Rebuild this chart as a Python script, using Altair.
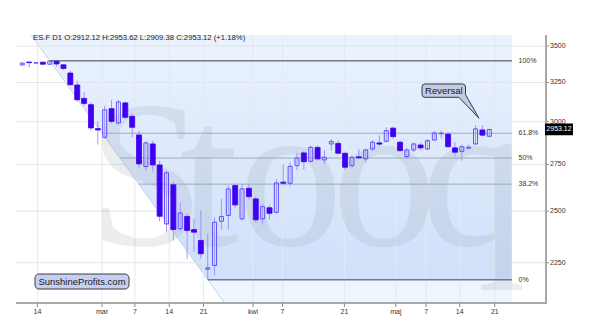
import numpy as np
import pandas as pd
import altair as alt

# ---------------- data ----------------
symbol = "ES.F"
interval = "D1"

opens = [3368, 3388, 3381, 3387, 3373, 3393, 3369, 3313, 3233, 3146,
         3106, 2958, 2906, 3081, 2992, 3117, 3033, 2920, 2738, 2867,
         2747, 2436, 2638, 2412, 2473, 2408, 2355, 2221, 2238, 2449,
         2478, 2634, 2461, 2619, 2563, 2461, 2517, 2494, 2652, 2646,
         2743, 2815, 2767, 2847, 2775, 2867, 2870, 2813, 2743, 2793,
         2781, 2838, 2873, 2882, 2961, 2877, 2794, 2832, 2861, 2838,
         2890, 2927, 2925, 2844, 2824, 2842, 2867, 2950, 2912.12]
highs = [3383, 3390, 3386, 3390, 3397.5, 3396, 3373, 3328, 3261, 3185,
         3120, 3002, 3100, 3138, 3136, 3125, 3050, 2946, 2882, 2886,
         2771, 2715, 2655, 2545, 2486, 2463, 2503, 2388, 2469, 2563,
         2634, 2644, 2643, 2643, 2575, 2537, 2529, 2670, 2752, 2762,
         2815, 2828, 2857, 2857, 2832, 2896, 2886, 2823, 2800, 2838,
         2840, 2890, 2916, 2966, 2970, 2886, 2844, 2874, 2874, 2896,
         2942, 2946, 2936, 2877, 2863, 2863, 2976, 2976, 2953.62]
lows = [3366, 3351, 3378, 3370, 3369, 3356, 3335, 3228, 3127, 3100,
        2946, 2863, 2898, 2988, 2982, 3017, 2906, 2725, 2715, 2710,
        2448, 2398, 2355, 2403, 2269, 2299, 2269, 2174, 2193, 2407,
        2407, 2518, 2453, 2563, 2439, 2432, 2456, 2488, 2634, 2628,
        2719, 2719, 2763, 2771, 2752, 2828, 2811, 2719, 2725, 2781,
        2762, 2823, 2851, 2877, 2896, 2823, 2781, 2819, 2834, 2831,
        2886, 2896, 2846, 2794, 2771, 2840, 2863, 2915, 2909.38]
closes = [3381, 3384, 3383, 3373, 3394, 3375, 3344, 3235, 3137, 3114,
          2962, 2950, 3073, 3002, 3123, 3027, 2966, 2753, 2873, 2747,
          2474, 2703, 2408, 2491, 2403, 2395, 2292, 2227, 2444, 2473,
          2616, 2532, 2616, 2575, 2456, 2523, 2489, 2648, 2646, 2739,
          2786, 2765, 2847, 2781, 2790, 2882, 2813, 2734, 2790, 2787,
          2832, 2877, 2866, 2946, 2910, 2828, 2832, 2867, 2844, 2886,
          2932, 2931, 2851, 2819, 2851, 2848, 2956, 2918.7, 2953.12]

x_tick_pos = [2.2, 11.6, 16.4, 21.4, 26.4, 33.6, 37.9, 46.9, 54.4, 58.8, 63.7, 68.8]
x_tick_labels = ["14", "mar", "7", "14", "21", "kwi", "7", "21", "maj", "7", "14", "21"]
y_ticks = [2250, 2500, 2750, 3000, 3250, 3500]

fib_levels = [1.0, 0.618, 0.5, 0.382, 0.0]
fib_labels = ["100%", "61.8%", "50%", "38.2%", "0%"]

watermark = "Stooq"
brand = "SunshineProfits.com"
note = "Reversal"

# layout of the watermark letters (pixel offsets, styling only)
wm_offsets = [72, 164, 222, 316, 405]

# ---------------- derived ----------------
W, H = 530, 268
n = len(closes)
df = pd.DataFrame({"i": np.arange(n), "o": opens, "h": highs, "l": lows, "c": closes})
df["up"] = df["c"] >= df["o"]

X_DOM = [-0.186, 75.53]
Y_DOM = [2073, 3580]
FIB_RIGHT = 71.3

xs = alt.Scale(domain=X_DOM, nice=False, zero=False)
ys = alt.Scale(type="log", domain=Y_DOM, nice=False, zero=False)

i_hi = int(np.argmax(highs)); hi = float(max(highs))
i_lo = int(np.argmin(lows)); lo = float(min(lows))


def diag_x(p):
    return i_hi + (i_lo - i_hi) * (np.log(hi) - np.log(p)) / (np.log(hi) - np.log(lo))


top, bot = Y_DOM[1], Y_DOM[0]

zones = pd.DataFrame({
    "zone": ["a", "a", "b", "b", "c", "c"],
    "p": [top, hi, hi, lo, lo, bot],
})
zones["xl"] = zones["p"].apply(diag_x)
zones["xr"] = FIB_RIGHT

fib = pd.DataFrame({"f": fib_levels, "lab": fib_labels})
fib["p"] = lo + (hi - lo) * fib["f"]
fib["xl"] = fib["p"].apply(diag_x)
fib["xr"] = FIB_RIGHT
fib["major"] = fib["f"].isin([0.0, 1.0])

diag = pd.DataFrame({"x": [diag_x(top)], "x2": [diag_x(bot)], "y": [top], "y2": [bot]})


def area(zone, color):
    return alt.Chart(zones[zones.zone == zone]).mark_area(orient="horizontal", color=color).encode(
        y=alt.Y("p:Q", scale=ys, axis=None),
        x=alt.X("xl:Q", scale=xs, axis=None),
        x2="xr:Q",
    )


grad = alt.LinearGradient(
    gradient="linear",
    stops=[alt.GradientStop(color="#e7f0fd", offset=0),
           alt.GradientStop(color="#cfe0fa", offset=1)],
    x1=0, x2=0, y1=0, y2=1,
)

bg_a = area("a", "#eaf2fd")
bg_b = area("b", grad)
bg_c = area("c", "#eef5fe")

diag_line = alt.Chart(diag).mark_rule(color="#c4d2e8", strokeWidth=1).encode(
    x=alt.X("x:Q", scale=xs, axis=None), x2="x2:Q",
    y=alt.Y("y:Q", scale=ys, axis=None), y2="y2:Q",
)

ydf = pd.DataFrame({"p": y_ticks, "t": [str(v) for v in y_ticks]})
xdf = pd.DataFrame({"pos": x_tick_pos, "t": x_tick_labels})

hgrid = alt.Chart(ydf).mark_rule(color="#dfe5ee", strokeWidth=1).encode(
    y=alt.Y("p:Q", scale=ys, axis=None)
)
vgrid = alt.Chart(xdf).mark_rule(color="#e4e8ef", strokeWidth=1).encode(
    x=alt.X("pos:Q", scale=xs, axis=None)
)

wm_layers = []
for ch, off in zip(list(watermark), wm_offsets):
    wm_layers.append(
        alt.Chart(pd.DataFrame({"t": [ch]})).mark_text(
            font="Liberation Serif", fontSize=210, align="left", baseline="alphabetic",
            color="#8e98a6", opacity=0.17,
        ).encode(text="t:N", x=alt.value(off), y=alt.value(210))
    )

fib_lines = alt.Chart(fib).mark_rule().encode(
    x=alt.X("xl:Q", scale=xs, axis=None), x2="xr:Q",
    y=alt.Y("p:Q", scale=ys, axis=None),
    color=alt.condition("datum.major", alt.value("#6f7c8e"), alt.value("#9eaabb")),
    strokeWidth=alt.condition("datum.major", alt.value(1.5), alt.value(1)),
)
fib_text = alt.Chart(fib).mark_text(
    align="left", baseline="middle", fontSize=7, font="Liberation Sans", color="#333333"
).encode(
    x=alt.value(502.5), y=alt.Y("p:Q", scale=ys, axis=None), text="lab:N"
)

wicks = alt.Chart(df).mark_rule(color="#9d95ff", strokeWidth=1).encode(
    x=alt.X("i:Q", scale=xs, axis=None),
    y=alt.Y("l:Q", scale=ys, axis=None),
    y2="h:Q",
)

down_bodies = alt.Chart(df).transform_filter("!datum.up").mark_bar(
    width=5, color="#4000f2", stroke="#4000f2", strokeWidth=0.8
).encode(
    x=alt.X("i:Q", scale=xs, axis=None),
    y=alt.Y("o:Q", scale=ys, axis=None), y2="c:Q",
)
up_bodies = alt.Chart(df).transform_filter("datum.up").mark_bar(
    width=4, fill="#ffffff", fillOpacity=0.0, stroke="#5f4dff", strokeWidth=1
).encode(
    x=alt.X("i:Q", scale=xs, axis=None),
    y=alt.Y("o:Q", scale=ys, axis=None), y2="c:Q",
)

# ---- axes drawn through the scales ----
AX = "#a8a8a8"
x_domain = alt.Chart(xdf).mark_rule(color=AX, strokeWidth=1.5).encode(
    x=alt.value(0), x2=alt.value(W), y=alt.value(H)
)
y_domain = alt.Chart(ydf).mark_rule(color=AX, strokeWidth=2).encode(
    x=alt.value(W), y=alt.value(0), y2=alt.value(H + 0.8)
)
x_ticks = alt.Chart(xdf).mark_rule(color="#888888", strokeWidth=1).encode(
    x=alt.X("pos:Q", scale=xs, axis=None), y=alt.value(H + 1), y2=alt.value(H + 4)
)
x_labels = alt.Chart(xdf).mark_text(
    fontSize=7, font="Liberation Sans", color="#333333", align="center", baseline="middle"
).encode(x=alt.X("pos:Q", scale=xs, axis=None), y=alt.value(H + 9), text="t:N")
y_tick_marks = alt.Chart(ydf).mark_rule(color="#888888", strokeWidth=1).encode(
    y=alt.Y("p:Q", scale=ys, axis=None), x=alt.value(W + 1), x2=alt.value(W + 3)
)
y_labels = alt.Chart(ydf).mark_text(
    fontSize=7, font="Liberation Sans", color="#333333", align="left", baseline="middle"
).encode(y=alt.Y("p:Q", scale=ys, axis=None), x=alt.value(W + 4), text="t:N")

last = df.iloc[-1]
prev_c = df.iloc[-2]["c"]
pct = (last["c"] / prev_c - 1) * 100
header = "%s  %s  O:%.2f  H:%.2f  L:%.2f  C:%.2f  (%+.2f%%)" % (
    symbol, interval, last["o"], last["h"], last["l"], last["c"], pct)

title = alt.Chart(pd.DataFrame({"t": [header]})).mark_text(
    align="left", baseline="middle", fontSize=7.7, font="Liberation Sans", color="#222222"
).encode(text="t:N", x=alt.value(17), y=alt.value(3.3))

brand_box = alt.Chart(pd.DataFrame({"t": [brand]})).mark_rect(
    cornerRadius=4, fill="#c6cff1", stroke="#3a3a3a", strokeWidth=1
).encode(x=alt.value(19), x2=alt.value(113), y=alt.value(239), y2=alt.value(254))
brand_text = alt.Chart(pd.DataFrame({"t": [brand]})).mark_text(
    fontSize=9.5, font="Liberation Sans", color="#1a1a1a", align="center", baseline="middle"
).encode(text="t:N", x=alt.value(66), y=alt.value(246.8))

callout_path = ("M -0.85 -0.572 L 0.4 -0.572 Q 0.5 -0.572 0.5 -0.472 L 0.5 -0.222 "
                "L 0.95 0.572 L 0.283 -0.128 L -0.85 -0.128 Q -0.95 -0.128 -0.95 -0.228 "
                "L -0.95 -0.472 Q -0.95 -0.572 -0.85 -0.572 Z")
callout = alt.Chart(pd.DataFrame({"t": [note]})).mark_point(
    shape=callout_path, size=3600, filled=True, fill="#c3cbe8", stroke="#3a3a3a",
    strokeWidth=1, opacity=1,
).encode(x=alt.value(434.5), y=alt.value(66.15))
callout_text = alt.Chart(pd.DataFrame({"t": [note]})).mark_text(
    fontSize=9.5, font="Liberation Sans", color="#1a1a1a", align="center", baseline="middle"
).encode(text="t:N", x=alt.value(427.8), y=alt.value(55.8))

tag_df = pd.DataFrame({"p": [last["c"]], "t": ["%.2f" % last["c"]]})
tag_box = alt.Chart(tag_df).mark_point(
    shape="M -1 -0.37 L 1 -0.37 L 1 0.37 L -1 0.37 Z", size=676, filled=True,
    fill="#000000", stroke="#000000", opacity=1,
).encode(x=alt.value(543), y=alt.Y("p:Q", scale=ys, axis=None))
tag_text = alt.Chart(tag_df).mark_text(
    fontSize=7, font="Liberation Sans", color="#ffffff", align="center", baseline="middle"
).encode(x=alt.value(543), y=alt.Y("p:Q", scale=ys, axis=None), text="t:N")

chart = alt.layer(
    bg_a, bg_b, bg_c, diag_line, hgrid, vgrid, *wm_layers, fib_lines, fib_text,
    wicks, up_bodies, down_bodies,
    x_domain, y_domain, x_ticks, x_labels, y_tick_marks, y_labels,
    title, brand_box, brand_text, callout, callout_text, tag_box, tag_text,
).properties(
    width=W, height=H,
    autosize=alt.AutoSizeParams(type="none"),
    padding={"left": 16, "top": 35, "right": 49, "bottom": 26},
    background="#ffffff",
).configure_view(stroke=None)

chart.save("out.html", embed_options={"renderer": "svg", "actions": False})
